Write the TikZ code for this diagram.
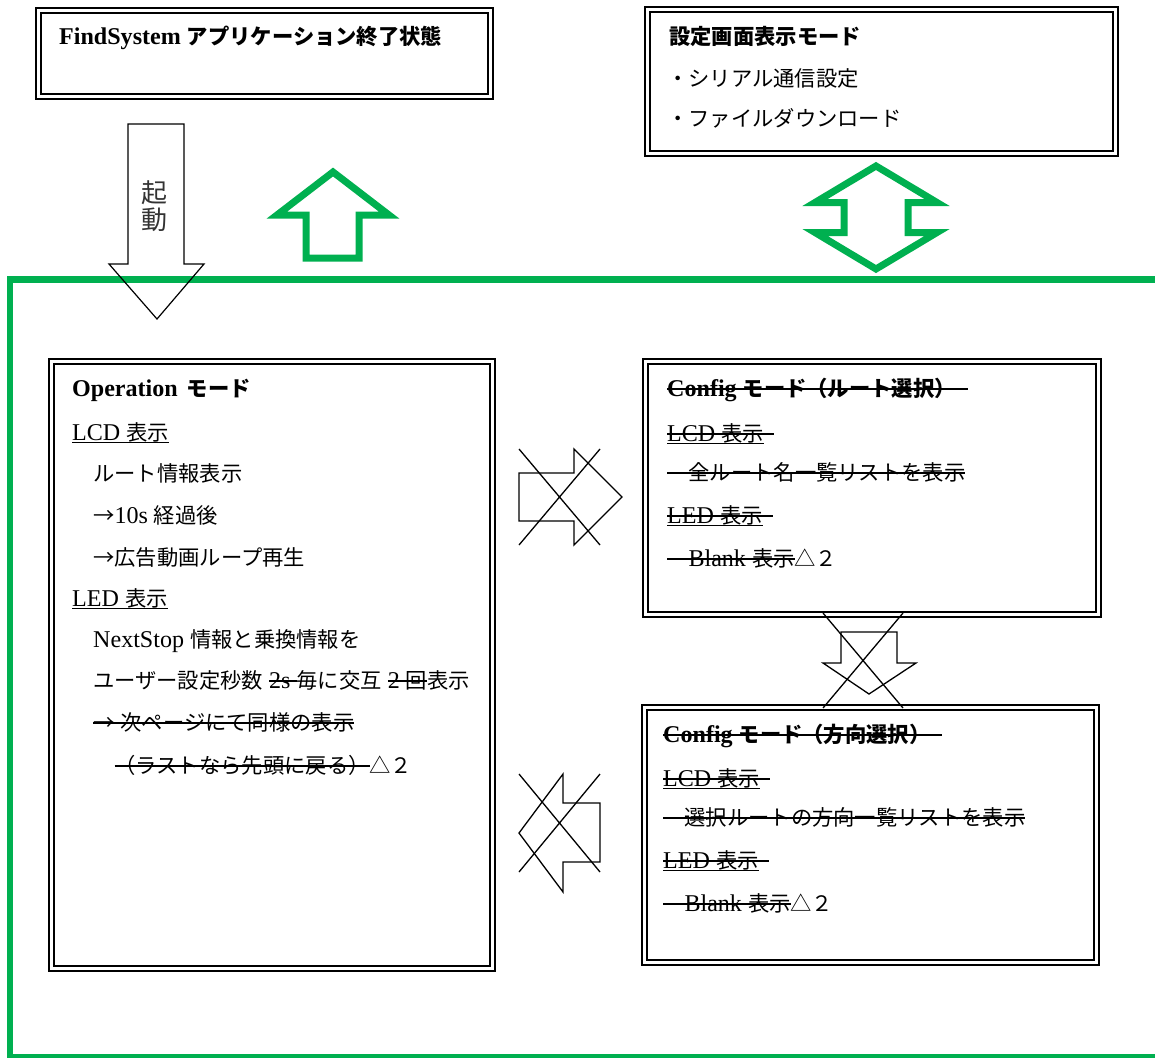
\documentclass[tikz,border=0pt]{standalone}
\usepackage{fontspec}
\setmainfont{Liberation Serif}[Scale=1.13]
\newfontfamily\jp{Noto Sans CJK JP}
\definecolor{gbl}{RGB}{0,176,80}
\newcommand\J[1]{{\jp #1}}
\newcommand\fs{\fontsize{21.3}{26}\selectfont}
\newcommand\stk[1]{\setbox0\hbox{#1}\rlap{\rule[6.3pt]{\wd0}{1.9pt}}\box0}
\newcommand\ul[1]{\setbox0\hbox{#1}\rlap{\rule[-3.4pt]{\wd0}{1.9pt}}\box0}
\tikzset{
  txt/.style={anchor=base west, inner sep=0pt, font=\fs},
  dblbox/.style={draw, line width=2.5pt, double, double distance=2.2pt, inner sep=0pt},
  blk/.style={draw, line width=1.3pt, line join=miter},
  grn/.style={draw=gbl, line width=7pt, line join=miter},
}
\begin{document}
\begin{tikzpicture}[x=1pt,y=-1pt]
\useasboundingbox (0,0) rectangle (1155,1057);
\fill[white] (0,0) rectangle (1155,1057);
% green frame
\begin{scope}
\clip (0,0) rectangle (1155,1057);
\draw[draw=gbl, line width=6.5pt] (10,279.5) rectangle (1175,1057.5);
\end{scope}
% green arrows
\draw[grn] (333,172) -- (389,215) -- (359,215) -- (359,258) -- (306,258) -- (306,215) -- (277,215) -- cycle;
\draw[grn] (876,166) -- (937,202.5) -- (908,202.5) -- (908,232.5) -- (937,232.5) -- (876,269)
  -- (815,232.5) -- (844,232.5) -- (844,202.5) -- (815,202.5) -- cycle;
% boxes
\node[dblbox, minimum width=452pt, minimum height=86pt] (findsys) at (264.5,53.5) {};
\node[dblbox, minimum width=468pt, minimum height=144pt] (setting) at (881.5,81.5) {};
\node[dblbox, minimum width=441pt, minimum height=607pt] (oper) at (272,665) {};
\node[dblbox, minimum width=453pt, minimum height=253pt] (cfgA) at (872,488) {};
\node[dblbox, minimum width=452pt, minimum height=255pt] (cfgB) at (870.5,835) {};
% start arrow
\draw[blk, line width=1.2pt] (128,124) -- (184,124) -- (184,264) -- (204,264) -- (157,319) -- (109,264) -- (128,264) -- cycle;
\node[font=\jp\fontsize{26}{26}\selectfont, text=black!80, inner sep=0pt] (ki) at (154,193) {起};
\node[font=\jp\fontsize{26}{26}\selectfont, text=black!80, inner sep=0pt] (dou) at (154,220) {動};
% top boxes text
\node[txt, font=\fs\bfseries] (t0) at (59,45) {FindSystem \J{アプリケーション終了状態}};
\node[txt, font=\fs\bfseries] (s0) at (669,45) {\J{設定画面表示モード}};
\node[txt] (s1) at (667,86) {\J{・シリアル通信設定}};
\node[txt] (s2) at (667,126) {\J{・ファイルダウンロード}};
% operation
\node[txt, font=\fs\bfseries] (o0) at (72,396) {Operation\hspace{9pt}\J{モード}};
\node[txt] (o1) at (72,440) {\ul{LCD \J{表示}}};
\node[txt] (o2) at (93,481) {\J{ルート情報表示}};
\node[txt] (o3) at (93,523) {\J{→}10s \J{経過後}};
\node[txt] (o4) at (93,565) {\J{→広告動画ループ再生}};
\node[txt] (o5) at (72,606) {\ul{LED \J{表示}}};
\node[txt] (o6) at (93,647) {NextStop \J{情報と乗換情報を}};
\node[txt] (o7) at (93,688) {\J{ユーザー設定秒数} \stk{2s\ }\J{毎に交互} \stk{2 \J{回}}\J{表示}};
\node[txt] (o8) at (93,730) {\stk{\J{→} \J{次ページにて同様の表示}}};
\node[txt] (o9) at (93,773) {\J{　}\stk{\J{（ラストなら先頭に戻る）}}\J{△２}};
% config 1
\node[txt] (a0) at (667,396) {\stk{\bfseries Config \J{モード（ルート選択）}\hspace*{12pt}}};
\node[txt] (a1) at (667,441) {\stk{\ul{LCD \J{表示}}\hspace*{10pt}}};
\node[txt] (a2) at (667,480) {\stk{\J{　全ルート名一覧リストを表示}}};
\node[txt] (a3) at (667,523) {\stk{\ul{LED \J{表示}}\hspace*{10pt}}};
\node[txt] (a4) at (667,566) {\stk{\J{　}Blank \J{表示}}\J{△２}};
% config 2
\node[txt] (b0) at (663,742) {\stk{\bfseries Config \J{モード（方向選択）}\hspace*{12pt}}};
\node[txt] (b1) at (663,786) {\stk{\ul{LCD \J{表示}}\hspace*{10pt}}};
\node[txt] (b2) at (663,825) {\stk{\J{　選択ルートの方向一覧リストを表示}}};
\node[txt] (b3) at (663,868) {\stk{\ul{LED \J{表示}}\hspace*{10pt}}};
\node[txt] (b4) at (663,911) {\stk{\J{　}Blank \J{表示}}\J{△２}};
% crossed arrows
\draw[blk] (519,473) -- (574,473) -- (574,449) -- (622,497) -- (574,545) -- (574,521) -- (519,521) -- cycle;
\draw[blk] (519,449) -- (600,545) (519,545) -- (600,449);
\draw[blk] (841,632) -- (897,632) -- (897,663) -- (916,663) -- (869,694) -- (823,663) -- (841,663) -- cycle;
\draw[blk] (823,613) -- (903,708) (903,613) -- (823,708);
\draw[blk] (600,803) -- (563,803) -- (563,774) -- (519,833) -- (563,892) -- (563,862) -- (600,862) -- cycle;
\draw[blk] (519,774) -- (600,872) (600,774) -- (519,872);
\end{tikzpicture}
\end{document}
